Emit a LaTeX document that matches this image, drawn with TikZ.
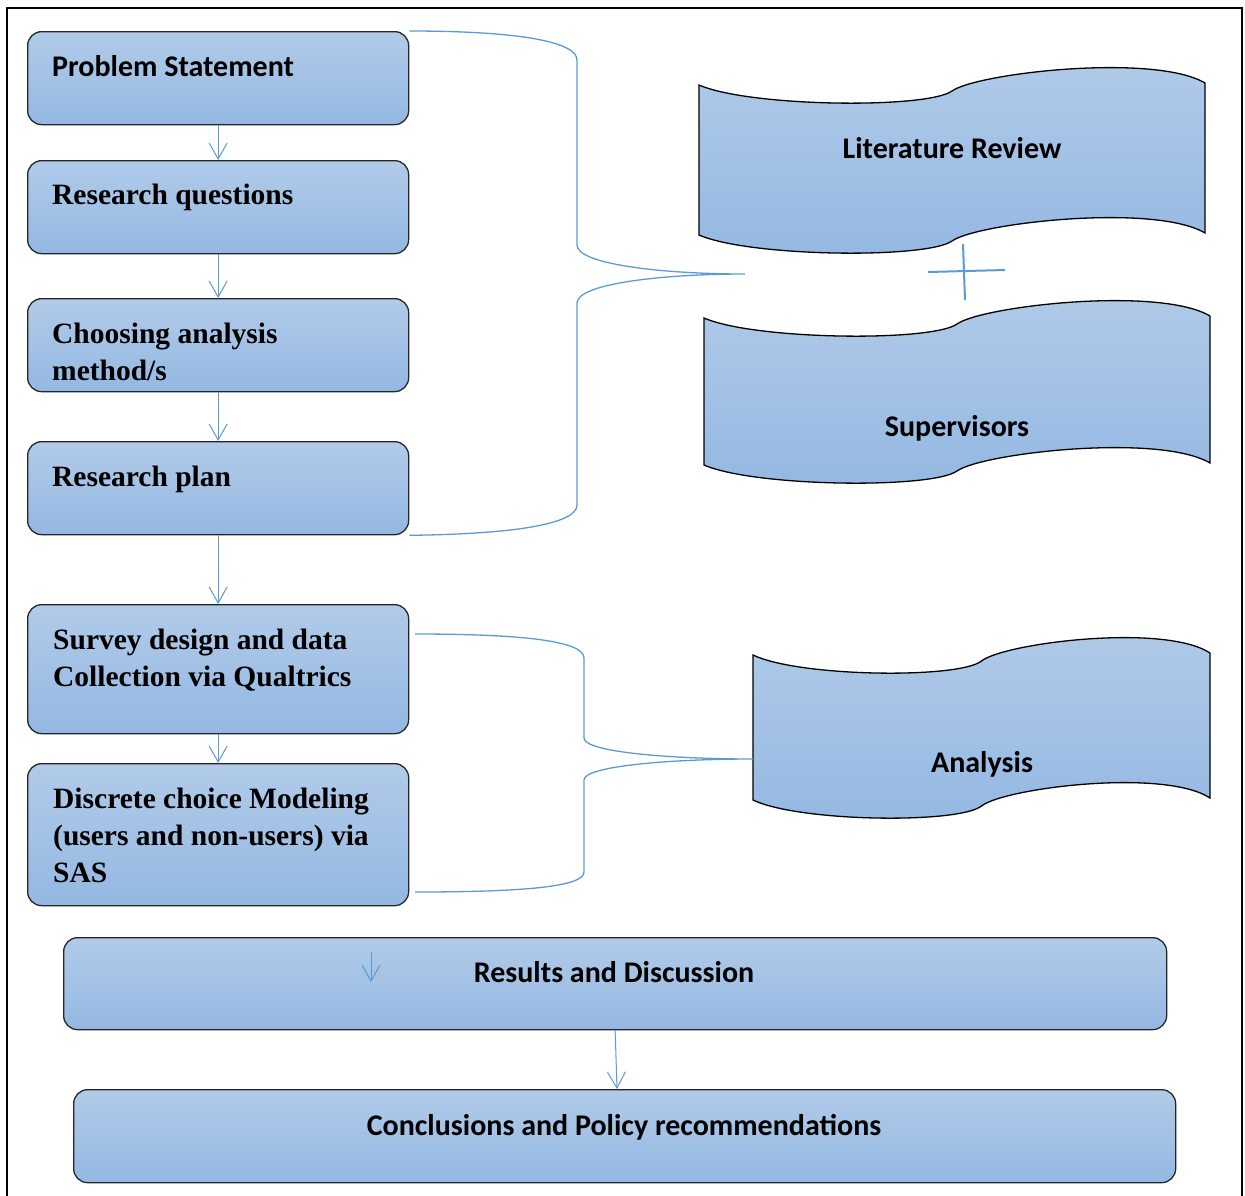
\documentclass[tikz,border=0pt]{standalone}
\usepackage{fontspec}
\setmainfont{Liberation Serif}
\newfontfamily\cali{Carlito}
\usetikzlibrary{arrows.meta,calc}
\definecolor{lblue}{HTML}{5B9BD5}
\definecolor{ftop}{HTML}{B1CBE9}
\definecolor{fbot}{HTML}{94B8E2}
\newcommand\tapeshape[4]{% L, T, W, H
  \path[tapesty] (#1,#2)
    .. controls ({#1+0.1*#3},{#2+22}) and ({#1+0.45*#3},{#2+24}) .. ({#1+0.5*#3},{#2+6})
    .. controls ({#1+0.55*#3},{#2-12}) and ({#1+0.9*#3},{#2-32}) .. ({#1+#3},{#2-2})
    -- ({#1+#3},{#2-2+#4})
    .. controls ({#1+0.9*#3},{#2-32+#4}) and ({#1+0.55*#3},{#2-12+#4}) .. ({#1+0.5*#3},{#2+6+#4})
    .. controls ({#1+0.45*#3},{#2+24+#4}) and ({#1+0.1*#3},{#2+22+#4}) .. ({#1},{#2+#4})
    -- cycle;}
\begin{document}
\begin{tikzpicture}[x=1pt,y=-1pt,
  boxsty/.style={draw=black!85, line width=1.3pt, rounded corners=14pt,
    top color=ftop, bottom color=fbot, inner sep=0pt, anchor=north west},
  tapesty/.style={draw=black, line width=1.3pt, top color=ftop, bottom color=fbot},
  serif/.style={font=\fontsize{29.5}{37}\selectfont\bfseries, inner sep=0pt, align=left, anchor=base west},
  sans/.style={font=\cali\fontsize{30}{37}\selectfont\bfseries, inner sep=0pt, anchor=base},
  arr/.style={draw=lblue, line width=1pt, -{Straight Barb[length=16pt,width=18pt]}},
  brace/.style={draw=lblue, line width=1.3pt},
  plus/.style={draw=lblue, line width=2pt}]
\useasboundingbox (0,0) rectangle (1245,1195);
\draw[line width=2.8pt] (7,1197) -- (7,8) -- (1242,8) -- (1242,1197);

% left column boxes
\node[boxsty, minimum width=381pt, minimum height=93pt] (p1) at (27,31) {};
\node[boxsty, minimum width=381pt, minimum height=93pt] (p2) at (27,160) {};
\node[boxsty, minimum width=381pt, minimum height=93pt] (p3) at (27,298) {};
\node[boxsty, minimum width=381pt, minimum height=93pt] (p4) at (27,441) {};
\node[boxsty, minimum width=381pt, minimum height=129pt] (p5) at (27,604) {};
\node[boxsty, minimum width=381pt, minimum height=142pt] (p6) at (27,763) {};
\node[boxsty, minimum width=1103pt, minimum height=92pt] (r) at (63,937) {};
\node[boxsty, minimum width=1102pt, minimum height=93pt] (c) at (73,1089) {};

% text nodes (anchor at baseline of last line)
\node[sans, anchor=base west] (p1t) at ($(p1.north west)+(25,45)$) {Problem Statement};
\node[serif] (p2t) at ($(p2.north west)+(25,44)$) {Research questions};
\node[serif] (p3t) at ($(p3.north west)+(25,82)$) {Choosing analysis\\method/s};
\node[serif] (p4t) at ($(p4.north west)+(25,45)$) {Research plan};
\node[serif] (p5t) at ($(p5.north west)+(26,82)$) {Survey design and data\\Collection via Qualtrics};
\node[serif] (p6t) at ($(p6.north west)+(26,119)$) {Discrete choice Modeling\\(users and non-users) via\\SAS};
\node[sans] (rt) at (614,982) {Results and Discussion};
\node[sans] (ct) at (624,1135) {Conclusions and Policy recommendations};

% tapes
\tapeshape{699}{85}{506}{150}
\tapeshape{704}{318}{506}{147}
\tapeshape{753}{655}{457}{145}
\node[sans] (lit) at (952,158) {Literature Review};
\node[sans] (sup) at (957,436) {Supervisors};
\node[sans] (ana) at (982,772) {Analysis};

% plus sign
\coordinate (h1) at (928,272); \coordinate (h2) at (1005,270);
\coordinate (v1) at (963,244); \coordinate (v2) at (965,300);
\draw[plus] (h1) -- (h2);
\draw[plus] (v1) -- (v2);

% arrows
\draw[arr] (p1.south) -- (p2.north);
\draw[arr] (p2.south) -- (p3.north);
\draw[arr] (p3.south) -- (p4.north);
\draw[arr] (p4.south) -- (p5.north);
\draw[arr] (p5.south) -- (p6.north);
\coordinate (s1) at (371,952); \coordinate (s2) at (371,982);
\draw[arr] (s1) -- (s2);
\coordinate (cin) at (617,1089);
\draw[arr] (r.south) -- (cin);

% braces
\coordinate (tip1) at (745,274);
\draw[brace] (p1.north east) .. controls (520,31) and (577,42) .. (577,60) -- (577,245)
  .. controls (577,264) and (660,274) .. (tip1)
  .. controls (660,274) and (577,284) .. (577,303) -- (577,505)
  .. controls (577,523) and (520,534) .. (p4.south east);
\coordinate (b2s) at (415,634); \coordinate (b2e) at (415,892);
\coordinate (tip2) at (753,759);
\draw[brace] (b2s) .. controls (530,634) and (584,642) .. (584,658) -- (584,738)
  .. controls (584,752) and (670,759) .. (tip2)
  .. controls (670,759) and (584,766) .. (584,780) -- (584,872)
  .. controls (584,886) and (530,892) .. (b2e);
\end{tikzpicture}
\end{document}
